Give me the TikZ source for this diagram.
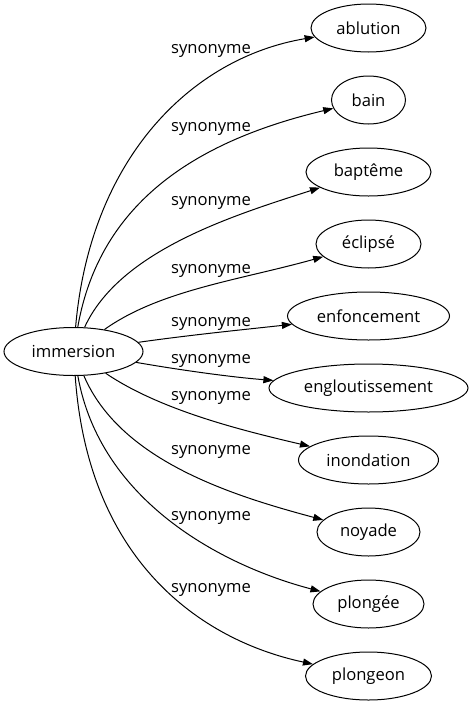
\documentclass[tikz,border=0pt]{standalone}
\usepackage{fontspec}
\setmainfont{Open Sans}
\usetikzlibrary{shapes.geometric,arrows.meta}
\begin{document}
\begin{tikzpicture}[x=1pt,y=-1pt,
  word/.style={draw,ellipse,line width=1pt,inner sep=0pt,minimum height=48pt,
    font=\fontsize{16.6}{20}\selectfont},
  rel/.style={font=\fontsize{16.6}{20}\selectfont,inner sep=0pt},
  edge/.style={line width=1pt,-{Triangle[length=10pt,width=7pt]}}]
\useasboundingbox (0,0) rectangle (472,707);
\node[word,minimum width=139pt] (imm) at (73.5,351.5) {immersion};
\node[word,minimum width=115pt] (t1) at (368.5,28) {ablution};
\node[word,minimum width=74pt] (t2) at (368.5,100) {bain};
\node[word,minimum width=125pt] (t3) at (368.5,172) {baptême};
\node[word,minimum width=105pt] (t4) at (368.5,244) {éclipsé};
\node[word,minimum width=162pt] (t5) at (368.5,316) {enfoncement};
\node[word,minimum width=199pt] (t6) at (368.5,388) {engloutissement};
\node[word,minimum width=140pt] (t7) at (368.5,460) {inondation};
\node[word,minimum width=103pt] (t8) at (368.5,532) {noyade};
\node[word,minimum width=111pt] (t9) at (368.5,604) {plongée};
\node[word,minimum width=126pt] (t10) at (368.5,676) {plongeon};
\draw[edge] (imm) .. controls (90,160) and (190,58) .. (t1);
\draw[edge] (imm) .. controls (100,200) and (200,140) .. (t2);
\draw[edge] (imm) .. controls (120,250) and (235,215) .. (t3);
\draw[edge] (imm) .. controls (160,290) and (240,280) .. (t4);
\draw[edge] (imm) .. controls (190,335) and (240,330) .. (t5);
\draw[edge] (imm) .. controls (180,370) and (230,377) .. (t6);
\draw[edge] (imm) .. controls (160,410) and (240,430) .. (t7);
\draw[edge] (imm) .. controls (120,460) and (230,495) .. (t8);
\draw[edge] (imm) .. controls (100,500) and (220,565) .. (t9);
\draw[edge] (imm) .. controls (88,560) and (200,640) .. (t10);
\node[rel] (l1) at (211,51) {synonyme};
\node[rel] (l2) at (211,129) {synonyme};
\node[rel] (l3) at (211,203) {synonyme};
\node[rel] (l4) at (211,271) {synonyme};
\node[rel] (l5) at (211,324) {synonyme};
\node[rel] (l6) at (211,361) {synonyme};
\node[rel] (l7) at (211,398) {synonyme};
\node[rel] (l8) at (211,452) {synonyme};
\node[rel] (l9) at (211,518) {synonyme};
\node[rel] (l10) at (211,590) {synonyme};
\end{tikzpicture}
\end{document}
